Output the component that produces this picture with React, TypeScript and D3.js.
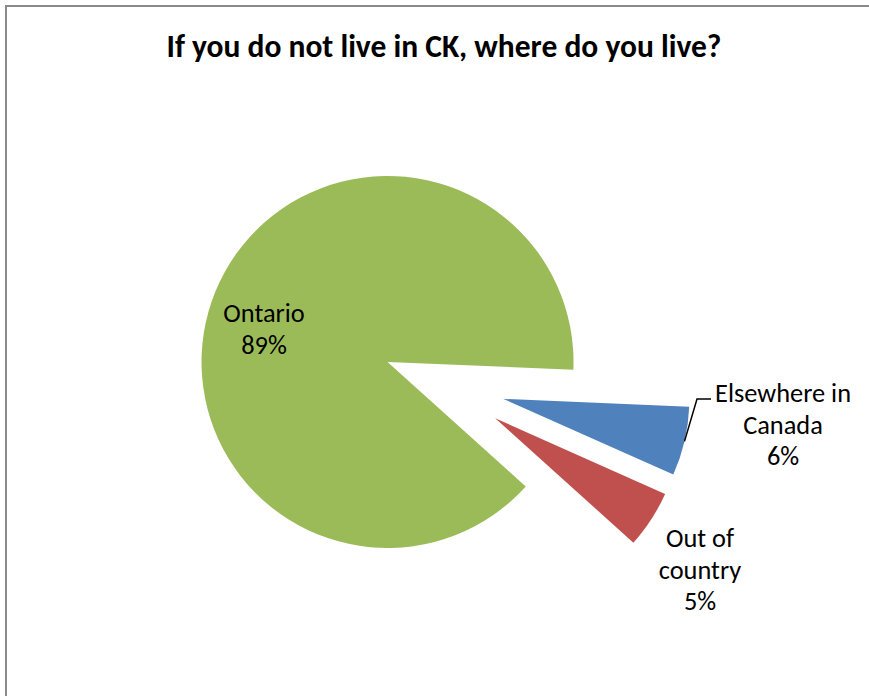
import { useEffect, useRef } from 'react';
import * as d3 from 'd3';

const categories = ['Ontario', 'Elsewhere in Canada', 'Out of country'];
const values = [89, 6, 5];
const labelLines = [['Ontario', '89%'], ['Elsewhere in', 'Canada', '6%'], ['Out of', 'country', '5%']];
const sliceColours = ['#9BBB59', '#4F81BD', '#C0504D'];

const App = () => {
  const svgRef = useRef(null);

  useEffect(() => {
    const width = 869;
    const height = 696;
    const svg = d3.select(svgRef.current);
    svg.selectAll('*').remove();

    const fontFamily = "Calibri, Carlito, 'Liberation Sans', Arial, sans-serif";

    // chart frame (bottom/right run off the page)
    svg
      .append('rect')
      .attr('x', 6)
      .attr('y', 6)
      .attr('width', width + 20)
      .attr('height', height + 20)
      .attr('fill', 'white')
      .attr('stroke', '#8a8a8a')
      .attr('stroke-width', 2);

    svg
      .append('text')
      .attr('x', 444)
      .attr('y', 57)
      .attr('text-anchor', 'middle')
      .style('font-family', fontFamily)
      .style('font-weight', 'bold')
      .style('font-size', '31.5px')
      .text('If you do not live in CK, where do you live?');

    const cx = 444;
    const cy = 385;
    const radius = 186;
    const explode = 61;

    const data = categories.map((c, i) => ({ name: c, value: values[i], i }));

    const pie = d3
      .pie()
      .sort(null)
      .value((d) => d.value)
      .startAngle((132 * Math.PI) / 180)
      .endAngle((132 * Math.PI) / 180 + 2 * Math.PI);

    const arc = d3.arc().innerRadius(0).outerRadius(radius);
    const arcs = pie(data);

    const offset = (a, r) => [Math.sin(a) * r, -Math.cos(a) * r];

    const chartArea = svg.append('g').attr('transform', `translate(${cx},${cy})`);

    arcs.forEach((a) => {
      const mid = (a.startAngle + a.endAngle) / 2;
      const [ox, oy] = offset(mid, explode);
      chartArea
        .append('path')
        .attr('d', arc(a))
        .attr('transform', `translate(${ox},${oy})`)
        .attr('fill', sliceColours[a.data.i]);
    });

    // leader line for the blue slice
    const blue = arcs[1];
    const bMid = (blue.startAngle + blue.endAngle) / 2;
    const [bx, by] = offset(bMid, explode);
    const [ex, ey] = offset(bMid, radius);
    const lineStart = [cx + bx + ex, cy + by + ey];
    svg
      .append('path')
      .attr('d', d3.line()([lineStart, [697, 399], [711, 399]]))
      .attr('fill', 'none')
      .attr('stroke', 'black')
      .attr('stroke-width', 1.5);

    const labelPos = [
      { x: 264, y: 322 },
      { x: 783, y: 402 },
      { x: 700, y: 547 },
    ];

    labelLines.forEach((lines, i) => {
      const t = svg
        .append('text')
        .attr('text-anchor', 'middle')
        .style('font-family', fontFamily)
        .style('font-size', '26.4px')
        .attr('fill', 'black');
      lines.forEach((l, j) => {
        t.append('tspan')
          .attr('x', labelPos[i].x)
          .attr('y', labelPos[i].y + j * 31.5)
          .text(l);
      });
    });
  }, []);

  return (
    <svg
      ref={svgRef}
      width={869}
      height={696}
      style={{ position: 'absolute', left: 0, top: 0, display: 'block' }}
    />
  );
};

export default App;
